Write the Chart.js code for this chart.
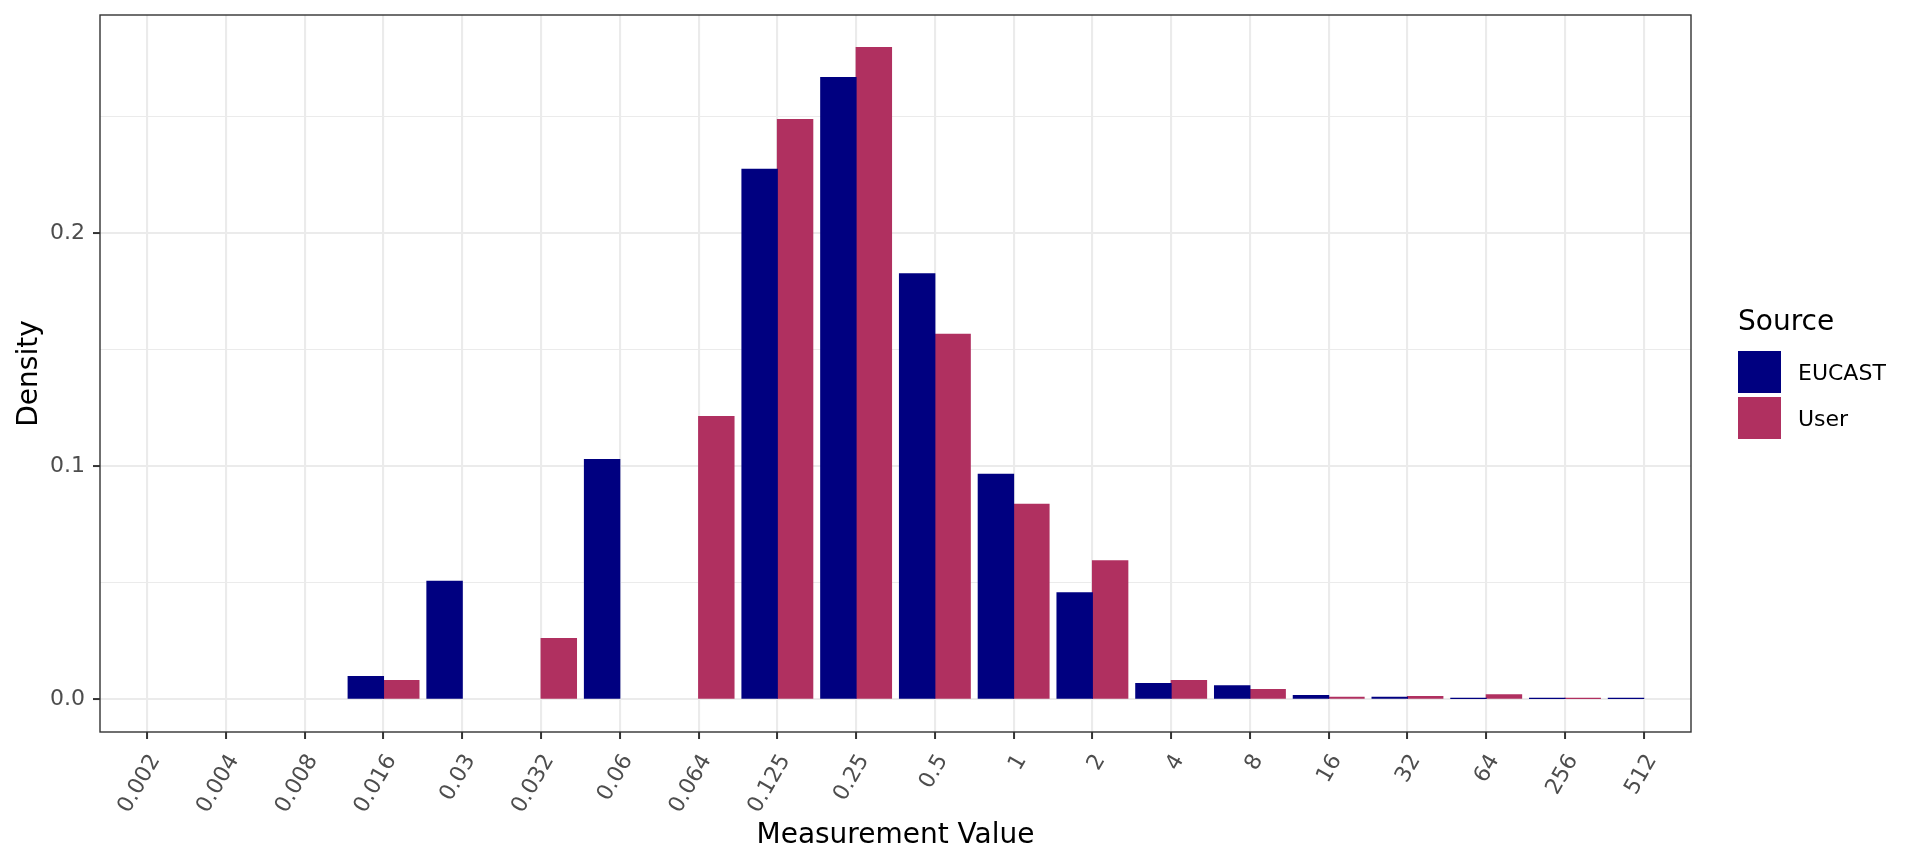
<!DOCTYPE html>
<html>
<head>
<meta charset="utf-8">
<title>Measurement Value density</title>
<script src="https://cdn.jsdelivr.net/npm/chart.js@4/dist/chart.umd.min.js"></script>
<style>
  html, body { margin: 0; padding: 0; background: #ffffff; }
  #wrap { position: relative; width: 1920px; height: 865px; font-family: "DejaVu Sans", sans-serif; }
  #legend { position: absolute; left: 1738px; top: 304px; }
  #legend .title { font-size: 28px; color: #000; line-height: 34px; margin-bottom: 13px; }
  #legend .item { display: flex; align-items: center; height: 42px; margin-bottom: 4px; }
  #legend .key { width: 43px; height: 42px; margin-right: 17px; }
  #legend .lab { font-size: 22px; color: #000; }
</style>
</head>
<body>
<div id="wrap">
  <canvas id="chart" width="1920" height="865"></canvas>
  <div id="legend"></div>
</div>
<script>
// ── Data ───────────────────────────────────────────────────────────────────────
const categories = ["0.002", "0.004", "0.008", "0.016", "0.03", "0.032", "0.06", "0.064",
                    "0.125", "0.25", "0.5", "1", "2", "4", "8", "16", "32", "64", "256", "512"];
const eucast = [null, null, null, 0.0098, 0.0507, null, 0.1029, null,
                0.2273, 0.2667, 0.1825, 0.0965, 0.0457, 0.0068, 0.0059, 0.0017, 0.0009, 0.0004, 0.0004, 0.0004];
const user   = [null, null, null, 0.0081, null, 0.0261, null, 0.1213,
                0.2487, 0.2795, 0.1566, 0.0837, 0.0595, 0.0081, 0.0043, 0.0009, 0.0013, 0.0020, 0.0004, null];
const seriesNames  = ["EUCAST", "User"];
const seriesColors = ["#000080", "#B03060"];
const yTicks = [0, 0.05, 0.1, 0.15, 0.2, 0.25];

// ggplot-style 5% expansion of the value range
const yMax = Math.max(...eucast.concat(user).filter(v => v !== null));
const yMin = 0;
const yPad = (yMax - yMin) * 0.05;

const FONT = "DejaVu Sans";

// ── Panel border drawn over everything (theme_bw look) ─────────────────────────
const panelBorder = {
  id: "panelBorder",
  afterDraw(chart) {
    const a = chart.chartArea, c = chart.ctx;
    c.save();
    c.strokeStyle = "#333333";
    c.lineWidth = 1.4;
    c.strokeRect(a.left, a.top, a.right - a.left, a.bottom - a.top);
    c.restore();
  }
};

// ── Chart ──────────────────────────────────────────────────────────────────────
const toPoints = arr => arr.map((v, i) => ({ x: i, y: v }));

new Chart(document.getElementById("chart"), {
  type: "bar",
  data: {
    datasets: [
      { label: seriesNames[0], data: toPoints(eucast), backgroundColor: seriesColors[0] },
      { label: seriesNames[1], data: toPoints(user),   backgroundColor: seriesColors[1] },
    ],
  },
  options: {
    responsive: false,
    animation: false,
    devicePixelRatio: 1,
    categoryPercentage: 0.9,
    barPercentage: 1.0,
    borderWidth: 0,
    inflateAmount: 0.5,
    layout: { padding: { top: 15, right: 229, bottom: 0, left: 0 } },
    plugins: {
      legend: { display: false },
      tooltip: { enabled: false },
    },
    scales: {
      x: {
        type: "linear",
        min: -0.6,
        max: categories.length - 1 + 0.6,
        offset: false,
        afterBuildTicks: axis => { axis.ticks = categories.map((c, i) => ({ value: i })); },
        afterFit: scale => { scale.height = 133; scale.paddingLeft = 0; scale.paddingRight = 0; },
        grid: {
          offset: false,
          color: "#EBEBEB",
          lineWidth: 2.1,
          tickColor: "#333333",
          tickWidth: 2,
          tickLength: 7,
        },
        border: { display: false },
        ticks: {
          autoSkip: false,
          minRotation: 60,
          maxRotation: 60,
          padding: 13,
          // transparent backdrop: keeps rotated labels anchored like ggplot's hjust = 1
          showLabelBackdrop: true,
          backdropColor: "rgba(0,0,0,0)",
          backdropPadding: 0,
          color: "#4D4D4D",
          font: { family: FONT, size: 22, lineHeight: 0.84 },
          callback: v => categories[v],
        },
        title: {
          display: true,
          text: "Measurement Value",
          color: "#000000",
          font: { family: FONT, size: 28 },
          padding: { top: 0, bottom: 12 },
        },
      },
      y: {
        min: yMin - yPad,
        max: yMax + yPad,
        afterBuildTicks: axis => { axis.ticks = yTicks.map(v => ({ value: v })); },
        afterFit: scale => { scale.width = 100; scale.paddingTop = 0; scale.paddingBottom = 0; },
        grid: {
          color: "#EBEBEB",
          lineWidth: ctx => (ctx.index % 2 ? 1.1 : 2.1),
          tickColor: ctx => (ctx.index % 2 ? "rgba(0,0,0,0)" : "#333333"),
          tickWidth: 2,
          tickLength: 7,
        },
        border: { display: false },
        ticks: {
          padding: 8,
          color: "#4D4D4D",
          font: { family: FONT, size: 22 },
          callback: (v, i) => (i % 2 ? "" : v.toFixed(1)),
        },
        title: {
          display: true,
          text: "Density",
          color: "#000000",
          font: { family: FONT, size: 28 },
          padding: { top: 13, bottom: 0 },
        },
      },
    },
  },
  plugins: [panelBorder],
});

// ── Legend ─────────────────────────────────────────────────────────────────────
const legendEl = document.getElementById("legend");
legendEl.innerHTML = '<div class="title">Source</div>' +
  seriesNames.map((n, i) =>
    `<div class="item"><span class="key" style="background:${seriesColors[i]}"></span><span class="lab">${n}</span></div>`
  ).join("");
</script>
</body>
</html>
